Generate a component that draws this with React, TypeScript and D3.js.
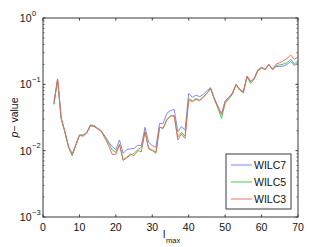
import React from "react";
import * as d3 from "d3";

const lmax: number[] = d3.range(3, 71);
const wilc7: number[] = [
  0.050, 0.119, 0.031, 0.0193, 0.0115, 0.0088, 0.0121, 0.0172, 0.0170, 0.0186,
  0.0238, 0.0235, 0.0216, 0.0198, 0.0165, 0.0136, 0.0115, 0.0104, 0.0145, 0.0091,
  0.0104, 0.0106, 0.0108, 0.0121, 0.0119, 0.0225, 0.0133, 0.0119, 0.0112, 0.0258,
  0.0258, 0.0366, 0.0400, 0.0420, 0.0193, 0.0230, 0.0205, 0.073, 0.0636, 0.069,
  0.065, 0.0707, 0.080, 0.089, 0.062, 0.047, 0.0355, 0.056, 0.064, 0.074,
  0.100, 0.084, 0.077, 0.133, 0.110, 0.124, 0.166, 0.180, 0.168, 0.200,
  0.166, 0.185, 0.186, 0.189, 0.200, 0.222, 0.192, 0.212,
];
const wilc5: number[] = [
  0.050, 0.117, 0.030, 0.0190, 0.0113, 0.0084, 0.0120, 0.0172, 0.0172, 0.0188,
  0.0245, 0.0240, 0.0218, 0.0198, 0.0162, 0.0130, 0.0102, 0.0095, 0.0124, 0.0073,
  0.0080, 0.0089, 0.0084, 0.0100, 0.0096, 0.0193, 0.0106, 0.0100, 0.0091, 0.0225,
  0.0218, 0.0295, 0.0335, 0.0338, 0.0160, 0.0190, 0.0165, 0.061, 0.056, 0.061,
  0.058, 0.064, 0.074, 0.086, 0.060, 0.044, 0.0307, 0.052, 0.060, 0.071,
  0.098, 0.082, 0.074, 0.128, 0.103, 0.120, 0.160, 0.176, 0.167, 0.198,
  0.170, 0.192, 0.196, 0.202, 0.212, 0.238, 0.202, 0.227,
];
const wilc3: number[] = [
  0.054, 0.121, 0.031, 0.0195, 0.0116, 0.0088, 0.0122, 0.0170, 0.0165, 0.0184,
  0.0236, 0.0232, 0.0212, 0.0194, 0.0155, 0.0119, 0.0088, 0.0088, 0.0124, 0.0071,
  0.0078, 0.0086, 0.0091, 0.0104, 0.0112, 0.0193, 0.0108, 0.0102, 0.0096, 0.0225,
  0.0218, 0.0290, 0.0333, 0.0333, 0.0145, 0.0178, 0.0153, 0.058, 0.0547, 0.0593,
  0.0566, 0.0636, 0.073, 0.086, 0.0615, 0.046, 0.0353, 0.0547, 0.063, 0.073,
  0.100, 0.084, 0.077, 0.133, 0.110, 0.123, 0.164, 0.178, 0.168, 0.200,
  0.168, 0.202, 0.212, 0.227, 0.246, 0.277, 0.238, 0.26,
];
const seriesNames: string[] = ["WILC7", "WILC5", "WILC3"];
const seriesColors: string[] = ["#6b7dff", "#3cc23c", "#ff5a5a"];
const xTicks: number[] = [0, 10, 20, 30, 40, 50, 60, 70];
const yExps: number[] = [0, -1, -2, -3];

const W = 329, H = 247;
const L = 43, R = 298, T = 18, B = 217;
const FONT = "'Liberation Sans', Arial, Helvetica, sans-serif";
const AX = "#3a3a3a";

export default function App() {
  const x = d3.scaleLinear().domain([0, 70]).range([L, R]);
  const y = d3.scaleLog().domain([1e-3, 1]).range([B, T]);
  const allSeries = [wilc7, wilc5, wilc3];
  const line = d3
    .line<[number, number]>()
    .x((d) => x(d[0]))
    .y((d) => y(d[1]));

  const minor: number[] = [];
  for (let e = -3; e < 0; e++) {
    for (let m = 2; m <= 9; m++) minor.push(m * Math.pow(10, e));
  }

  const drawOrder = [0, 1, 2];
  const legX = 226, legY = 154, legW = 65, legH = 55;

  return (
    <svg
      width={W}
      height={H}
      style={{ position: "absolute", left: 0, top: 0, background: "#fff" }}
      fontFamily={FONT}
    >
      <rect x={0} y={0} width={W} height={H} fill="#fff" />
      {drawOrder.map((i) => (
        <path
          key={i}
          d={line(lmax.map((l, k) => [l, allSeries[i][k]] as [number, number])) || ""}
          fill="none"
          stroke={seriesColors[i]}
          strokeWidth={0.9}
        />
      ))}
      {/* axes box */}
      <rect x={L} y={T} width={R - L} height={B - T} fill="none" stroke={AX} strokeWidth={1} />
      {/* x ticks */}
      {xTicks.map((t) => (
        <g key={"xt" + t}>
          <line x1={x(t)} x2={x(t)} y1={B} y2={B - 2.5} stroke={AX} />
          <line x1={x(t)} x2={x(t)} y1={T} y2={T + 2.5} stroke={AX} />
          <text x={x(t)} y={231} fontSize={10.5} textAnchor="middle" fill="#111">
            {t}
          </text>
        </g>
      ))}
      {/* y ticks */}
      {yExps.map((e) => {
        const v = Math.pow(10, e);
        return (
          <g key={"yt" + e}>
            <line x1={L} x2={L + 2.5} y1={y(v)} y2={y(v)} stroke={AX} />
            <line x1={R} x2={R - 2.5} y1={y(v)} y2={y(v)} stroke={AX} />
            <text x={31.5} y={y(v) + 4} fontSize={10.5} textAnchor="end" fill="#111">
              10
            </text>
            <text x={32} y={y(v) - 2.5} fontSize={7.5} textAnchor="start" fill="#111">
              {e === 0 ? "0" : "\u2212" + String(-e)}
            </text>
          </g>
        );
      })}
      {minor.map((v, i) => (
        <g key={"mn" + i}>
          <line x1={L} x2={L + 1.5} y1={y(v)} y2={y(v)} stroke={AX} strokeWidth={0.8} />
          <line x1={R} x2={R - 1.5} y1={y(v)} y2={y(v)} stroke={AX} strokeWidth={0.8} />
        </g>
      ))}
      {/* axis labels */}
      <text
        transform={`translate(18,${(T + B) / 2}) rotate(-90)`}
        fontSize={10.5}
        textAnchor="middle"
        fill="#111"
      >
        <tspan fontStyle="italic">p</tspan>
        <tspan>{"\u2212 value"}</tspan>
      </text>
      <text x={163} y={238} fontSize={10.5} fill="#111">
        l
      </text>
      <text x={166} y={243} fontSize={7.5} fill="#111">
        max
      </text>
      {/* legend */}
      <rect x={legX} y={legY} width={legW} height={legH} fill="#fff" stroke={AX} strokeWidth={1} />
      {seriesNames.map((n, i) => {
        const cy = legY + 11 + i * 17;
        return (
          <g key={n}>
            <line x1={legX + 5} x2={legX + 26} y1={cy} y2={cy} stroke={seriesColors[i]} strokeWidth={0.9} />
            <text x={legX + 28} y={cy + 4} fontSize={10.5} fill="#111">
              {n}
            </text>
          </g>
        );
      })}
    </svg>
  );
}
